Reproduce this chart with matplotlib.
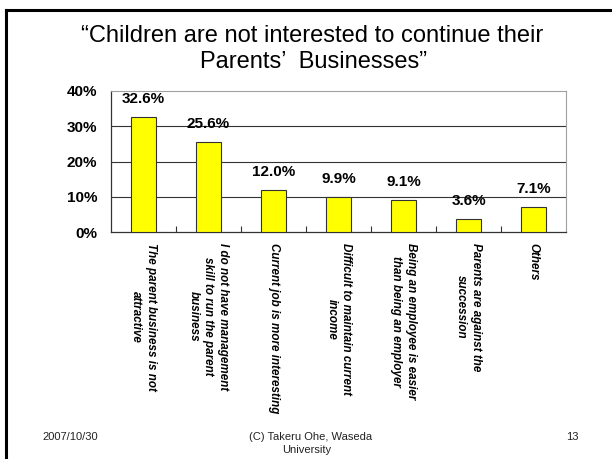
import matplotlib
matplotlib.use("Agg")
import matplotlib.pyplot as plt
from matplotlib.lines import Line2D
import numpy as np

plt.rcParams['font.family'] = ['Liberation Sans', 'DejaVu Sans']

W, H = 612, 459  # figure size in px

# chart data
reasons = [
    "The parent business is not\nattractive",
    "I do not have management\nskill to run the parent\nbusiness",
    "Current job is more interesting",
    "Difficult to maintain current\nincome",
    "Being an employee is easier\nthan being an employer",
    "Parents are against the\nsuccession",
    "Others",
]
shares = [32.6, 25.6, 12.0, 9.9, 9.1, 3.6, 7.1]
y_ticks = [0, 10, 20, 30, 40]
y_tick_labels = ["0%", "10%", "20%", "30%", "40%"]

title_lines = ["\u201cChildren are not interested to continue their",
               "Parents\u2019 Businesses\u201d"]
footer_date = "2007/10/30"
footer_credit = ["(C) Takeru Ohe, Waseda", "University"]
footer_page = "13"

fig = plt.figure(figsize=(W / 100, H / 100), dpi=100)
fig.patch.set_facecolor('white')

# plot area in px -> figure fractions
left, right, top, bottom = 111, 566, 91, 232
ax = fig.add_axes([left / W, 1 - bottom / H, (right - left) / W, (bottom - top) / H])

x = np.arange(len(shares))
ax.bar(x, shares, width=0.39, color='#ffff00', edgecolor='#333333', linewidth=0.8, zorder=3)

# value labels above bars
for xi, v in zip(x, shares):
    ax.annotate(f"{v:.1f}%", (xi, v), xytext=(0, 10), textcoords='offset points',
                ha='center', va='baseline', fontsize=11, fontweight='bold', zorder=4)

ax.set_xlim(-0.5, len(shares) - 0.5)
ax.set_ylim(0, 40)
ax.set_yticks(y_ticks)
ax.set_yticklabels(y_tick_labels, fontsize=11, fontweight='bold')
ax.tick_params(axis='y', length=0, pad=10)

# gridlines
for yv in y_ticks[1:-1]:
    ax.axhline(yv, color='#333333', linewidth=0.8, zorder=1)

# category labels
ax.set_xticks(x)
ax.set_xticklabels(reasons, rotation=-90, ha='center', va='top',
                   multialignment='center', fontsize=8.4, fontweight='bold',
                   fontstyle='italic', linespacing=1.25)
ax.tick_params(axis='x', which='major', length=0, pad=8)
ax.set_xticks(np.arange(0.5, len(shares) - 0.5, 1), minor=True)
ax.tick_params(axis='x', which='minor', direction='in', length=4, color='#333333', width=0.8)

for s in ['top', 'right']:
    ax.spines[s].set_color('#a0a0a0')
    ax.spines[s].set_linewidth(0.8)
for s in ['left', 'bottom']:
    ax.spines[s].set_color('#333333')
    ax.spines[s].set_linewidth(0.9)

# title
fig.text(312 / W, 1 - 42 / H, title_lines[0], ha='center', va='baseline', fontsize=17)
fig.text(314 / W, 1 - 68 / H, title_lines[1].replace("\u2019", "\u2019 "),
         ha='center', va='baseline', fontsize=17)

# footer
fig.text(42 / W, 1 - 440 / H, footer_date, ha='left', va='baseline', fontsize=8, color='#222222')
fig.text(311 / W, 1 - 440 / H, footer_credit[0], ha='center', va='baseline', fontsize=8, color='#222222')
fig.text(307 / W, 1 - 453 / H, footer_credit[1], ha='center', va='baseline', fontsize=8, color='#222222')
fig.text(579 / W, 1 - 440 / H, footer_page, ha='right', va='baseline', fontsize=8, color='#222222')

# slide frame lines (top and left)
fig.add_artist(Line2D([6 / W, 1], [1 - 9.5 / H, 1 - 9.5 / H], color='black', linewidth=2.2))
fig.add_artist(Line2D([6 / W, 6 / W], [0, 1 - 9.5 / H], color='black', linewidth=2.2))

fig.savefig('out.png', dpi=100)
